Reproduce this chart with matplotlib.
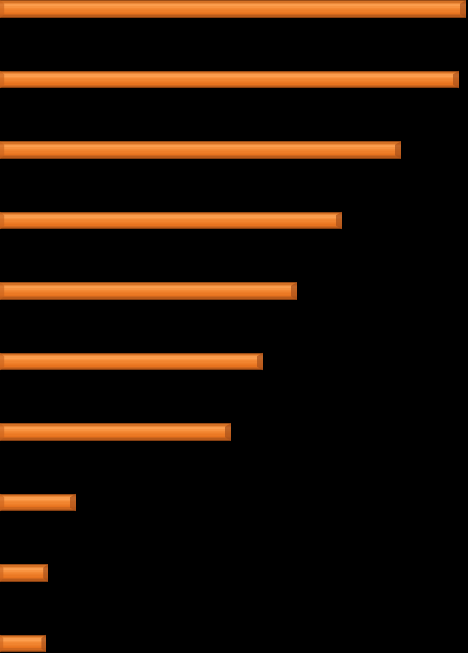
"""Horizontal bevelled orange bars on black"""
import matplotlib
matplotlib.use('Agg')
import matplotlib.pyplot as plt
import numpy as np
from matplotlib.colors import LinearSegmentedColormap

# bar lengths, top to bottom (no labels in the picture)
categories = list(range(10))
values = [466, 459, 401, 342, 297, 263, 231, 76, 48, 46]

BAR_H = 0.25
N_STRIPS = 14

# vertical bevel profile: top edge -> highlight -> body -> shadow -> bottom edge
bevel = LinearSegmentedColormap.from_list(
    'bevel',
    [(0.0, '#7a3a10'), (0.12, '#e07828'), (0.28, '#ffa455'),
     (0.45, '#f58a35'), (0.75, '#e8741f'), (0.9, '#b85a1a'), (1.0, '#6a300c')]
)

fig = plt.figure(figsize=(4.68, 6.53), dpi=100, facecolor='black')
ax = fig.add_axes([0, 0, 1, 1])
ax.set_facecolor('black')

for y, v in zip(categories, values):
    for k in range(N_STRIPS):
        frac = (k + 0.5) / N_STRIPS
        yy = y - BAR_H / 2 + k * BAR_H / N_STRIPS + BAR_H / N_STRIPS / 2
        ax.barh(yy, v, height=BAR_H / N_STRIPS * 1.05, color=bevel(frac),
                linewidth=0)
    # darker bevelled end caps
    cap = min(6, v * 0.1)
    ax.fill([v - cap, v, v, v - cap],
            [y - BAR_H / 2 + 0.05, y - BAR_H / 2, y + BAR_H / 2, y + BAR_H / 2 - 0.05],
            color='#a8501a', alpha=0.7, linewidth=0)
    ax.fill([0, cap * 0.7, cap * 0.7, 0],
            [y - BAR_H / 2, y - BAR_H / 2 + 0.05, y + BAR_H / 2 - 0.05, y + BAR_H / 2],
            color='#c8621e', alpha=0.6, linewidth=0)

ax.set_xlim(0, 468)
ax.set_ylim(9.135, -0.128)
ax.set_axis_off()

fig.savefig('out.png', facecolor='black')
